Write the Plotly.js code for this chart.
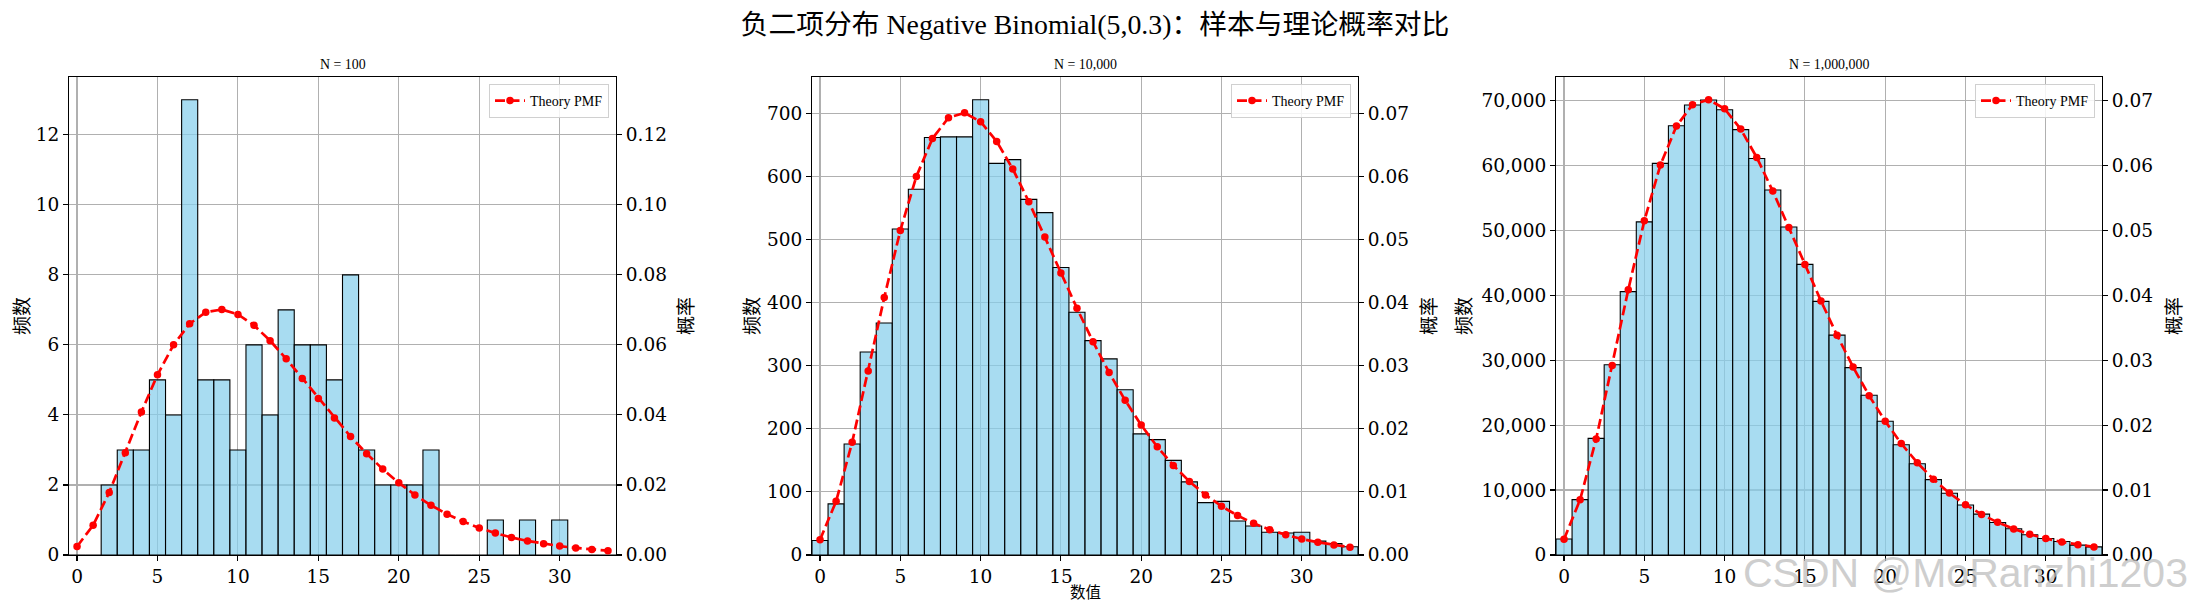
<!DOCTYPE html>
<html>
<head>
<meta charset="utf-8">
<script src="https://cdn.plot.ly/plotly-3.0.1.min.js"></script>
<style>
html,body{margin:0;padding:0;background:#ffffff;}
#chart{width:2190px;height:610px;}
</style>
</head>
<body>
<div id="chart"></div>
<script>
// ---------------- data ----------------
const kValues = [0,1,2,3,4,5,6,7,8,9,10,11,12,13,14,15,16,17,18,19,20,21,22,23,24,25,26,27,28,29,30,31,32,33];

const countsN100 = [0,0,2,3,3,5,4,13,5,5,3,6,4,7,6,6,5,8,3,2,2,2,3,0,0,0,1,0,1,0,1,0,0,0];

const countsN10k = [23,81,176,322,368,517,580,662,663,663,722,621,627,564,543,456,385,340,311,262,192,183,150,116,83,85,54,46,36,35,36,22,18,13];

const countsN1M = [2470,8520,17950,29300,40550,51300,60300,66100,69300,70050,68550,65500,61050,56200,50500,44750,39050,33850,28850,24600,20600,16980,14050,11600,9500,7700,6300,5000,4050,3120,2550,2080,1520,1250];

const theoryPMF = [0.00243,0.008505,0.017861,0.029172,0.040841,0.051460,0.060036,0.066040,0.069342,0.070112,
  0.068710,0.065587,0.061214,0.056035,0.050431,0.044716,0.039126,0.033833,0.028946,0.024528,
  0.020603,0.017169,0.014204,0.011672,0.0095320,0.0077400,0.0062515,0.0050244,0.0040195,0.0032017,
  0.0025400,0.0020075,0.0015809,0.0012407];

const sampleSizes = [100, 10000, 1000000];
const subplotTitles = ['N = 100', 'N = 10,000', 'N = 1,000,000'];
const mainTitle = '负二项分布 Negative Binomial(5,0.3)：样本与理论概率对比';
const yLabelLeft = '频数';
const yLabelRight = '概率';
const xLabel = '数值';
const legendLabel = 'Theory PMF';
const watermark = 'CSDN @MoRanzhi1203';

// ---------------- layout helpers ----------------
const W = 2190, H = 610;
const px = v => v / W;
const py = v => 1 - v / H;
const plotL = [69, 812, 1556];
const plotR = [616, 1358, 2102];
const plotT = 77, plotB = 555;
const leftTop = [13.65, 758, 73600];
const leftDtick = [2, 100, 10000];
const rightDtick = [0.02, 0.01, 0.01];
const leftFmt = ['d', 'd', ',d'];

const serif = "'Liberation Serif', 'Noto Sans CJK SC', serif";
const cjk = "'Noto Sans CJK SC', serif";
const tickFont = {family: "'DejaVu Serif', serif", size: 18.5, color: '#000'};
const gridColor = '#b0b0b0';

const allCounts = [countsN100, countsN10k, countsN1M];
const data = [];
const layout = {
  width: W, height: H,
  margin: {l: 0, r: 0, t: 0, b: 0},
  paper_bgcolor: '#ffffff',
  plot_bgcolor: '#ffffff',
  showlegend: true,
  bargap: 0,
  barmode: 'overlay',
  title: {
    text: mainTitle,
    x: 0.5, xanchor: 'center',
    y: py(24), yanchor: 'middle',
    font: {family: serif, size: 27.8, color: '#000'}
  },
  annotations: []
};

for (let i = 0; i < 3; i++) {
  const xid = i === 0 ? 'x' : 'x' + (i + 1);
  const yLid = i === 0 ? 'y' : 'y' + (2 * i + 1);
  const yRid = 'y' + (2 * i + 2);
  const xKey = i === 0 ? 'xaxis' : 'xaxis' + (i + 1);
  const yLKey = i === 0 ? 'yaxis' : 'yaxis' + (2 * i + 1);
  const yRKey = 'yaxis' + (2 * i + 2);
  const legKey = i === 0 ? 'legend' : 'legend' + (i + 1);

  data.push({
    type: 'bar',
    x: kValues,
    y: allCounts[i],
    width: 1,
    xaxis: xid, yaxis: yLid,
    marker: {color: 'rgba(135,206,235,0.72)', line: {color: '#000000', width: 1.1}},
    showlegend: false,
    hoverinfo: 'skip'
  });
  data.push({
    type: 'scatter',
    mode: 'lines+markers',
    x: kValues,
    y: theoryPMF,
    xaxis: xid, yaxis: yRid,
    name: legendLabel,
    legend: legKey,
    line: {color: '#ff0000', width: 2.7, dash: '10px,4.5px'},
    marker: {color: '#ff0000', size: 7.5},
    hoverinfo: 'skip'
  });

  layout[xKey] = {
    domain: [px(plotL[i]), px(plotR[i])],
    anchor: yLid,
    range: [-0.5, 33.5],
    tick0: 0, dtick: 5,
    showgrid: true, gridcolor: gridColor, gridwidth: 1.1,
    zeroline: false,
    showline: true, linecolor: '#000', linewidth: 1.1, mirror: true,
    ticks: 'outside', ticklen: 5, tickwidth: 1.1, tickcolor: '#000',
    tickfont: tickFont
  };
  layout[yLKey] = {
    domain: [py(plotB), py(plotT)],
    anchor: xid,
    range: [0, leftTop[i]],
    tick0: 0, dtick: leftDtick[i],
    tickformat: leftFmt[i],
    separatethousands: true,
    showgrid: true, gridcolor: gridColor, gridwidth: 1.1,
    zeroline: false,
    showline: true, linecolor: '#000', linewidth: 1.1, mirror: true,
    ticks: 'outside', ticklen: 5, tickwidth: 1.1, tickcolor: '#000',
    tickfont: tickFont
  };
  layout[yRKey] = {
    overlaying: yLid,
    anchor: xid,
    side: 'right',
    range: [0, leftTop[i] / sampleSizes[i]],
    tick0: 0, dtick: rightDtick[i],
    tickformat: '.2f',
    showgrid: false,
    zeroline: false,
    showline: true, linecolor: '#000', linewidth: 1.1,
    ticks: 'outside', ticklen: 5, tickwidth: 1.1, tickcolor: '#000',
    tickfont: tickFont
  };
  layout[legKey] = {
    x: px(plotR[i] - 7), xanchor: 'right',
    y: py(84), yanchor: 'top',
    xref: 'paper', yref: 'paper',
    bgcolor: 'rgba(255,255,255,0.85)',
    bordercolor: '#d0d0d0', borderwidth: 1,
    font: {family: serif, size: 14, color: '#000'},
    itemwidth: 30,
    tracegroupgap: 0
  };

  const cx = (plotL[i] + plotR[i]) / 2;
  layout.annotations.push({
    text: subplotTitles[i], xref: 'paper', yref: 'paper',
    x: px(cx), y: py(64), xanchor: 'center', yanchor: 'middle',
    showarrow: false, font: {family: serif, size: 13.9, color: '#000'}
  });
  const leftOff = [49, 62, 94][i];
  layout.annotations.push({
    text: yLabelLeft, xref: 'paper', yref: 'paper',
    x: px(plotL[i] - leftOff), y: py(316), xanchor: 'center', yanchor: 'middle',
    textangle: -90, showarrow: false,
    font: {family: cjk, size: 19, color: '#000'}
  });
  const rightOff = [68, 69, 70][i];
  layout.annotations.push({
    text: yLabelRight, xref: 'paper', yref: 'paper',
    x: px(plotR[i] + rightOff), y: py(316), xanchor: 'center', yanchor: 'middle',
    textangle: -90, showarrow: false,
    font: {family: cjk, size: 19, color: '#000'}
  });
  if (i === 1) {
    layout.annotations.push({
      text: xLabel, xref: 'paper', yref: 'paper',
      x: px(cx), y: py(591), xanchor: 'center', yanchor: 'middle',
      showarrow: false, font: {family: cjk, size: 15.5, color: '#000'}
    });
  }
}

layout.annotations.push({
  text: watermark, xref: 'paper', yref: 'paper',
  x: 1.0, y: py(573), xanchor: 'right', yanchor: 'middle',
  showarrow: false,
  font: {family: "'Liberation Sans', sans-serif", size: 41, color: 'rgba(190,190,190,0.75)'}
});

Plotly.newPlot('chart', data, layout, {staticPlot: true, displayModeBar: false});
</script>
</body>
</html>
